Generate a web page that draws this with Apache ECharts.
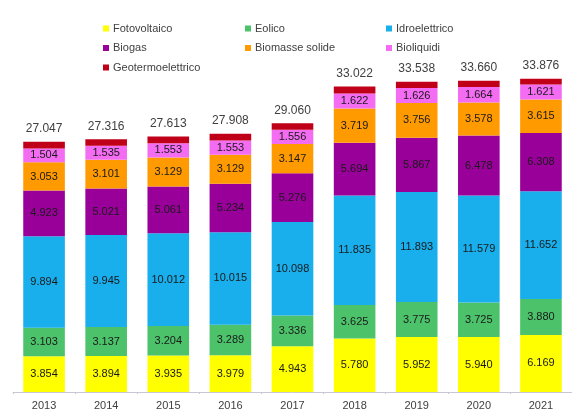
<!DOCTYPE html>
<html><head><meta charset="utf-8">
<script src="https://cdn.jsdelivr.net/npm/echarts@6/dist/echarts.min.js"></script>
<style>html,body{margin:0;padding:0;background:#fff}#c{width:572px;height:411px}</style>
</head><body><div id="c"></div>
<script>
const years = ['2013','2014','2015','2016','2017','2018','2019','2020','2021'];
const fotovoltaico = [3854,3894,3935,3979,4943,5780,5952,5940,6169];
const eolico = [3103,3137,3204,3289,3336,3625,3775,3725,3880];
const idroelettrico = [9894,9945,10012,10015,10098,11835,11893,11579,11652];
const biogas = [4923,5021,5061,5234,5276,5694,5867,6478,6308];
const biomasse = [3053,3101,3129,3129,3147,3719,3756,3578,3615];
const bioliquidi = [1504,1535,1553,1553,1556,1622,1626,1664,1621];
const geotermo = [716,683,719,709,704,747,669,696,631];
const totals = [27047,27316,27613,27908,29060,33022,33538,33660,33876];

const fmt = v => String(v).replace(/\B(?=(\d{3})+(?!\d))/g, '.');
const FONT = 'Liberation Sans, Arial, sans-serif';
function mk(name, data, color, showLabel){
  return {
    name, type:'bar', stack:'tot', data, barCategoryGap:'33%',
    itemStyle:{color},
    label:{show:showLabel, position:'inside', color:'#1a1a1a', fontSize:11, fontFamily:FONT,
      formatter:p=>fmt(p.value)},
    emphasis:{disabled:true}
  };
}
const series = [
  mk('Fotovoltaico', fotovoltaico, '#FFFF00', true),
  mk('Eolico', eolico, '#4CC36B', true),
  mk('Idroelettrico', idroelettrico, '#19AEEC', true),
  mk('Biogas', biogas, '#990099', true),
  mk('Biomasse solide', biomasse, '#FF9A00', true),
  mk('Bioliquidi', bioliquidi, '#F46CF2', true),
  mk('Geotermoelettrico', geotermo, '#C00018', false)
];
series[6].label = {show:true, position:'top', distance:7, color:'#404040', fontSize:12, fontFamily:FONT,
  formatter:p=>fmt(totals[p.dataIndex])};

const legBase = {orient:'vertical', itemWidth:6, itemHeight:6, itemGap:8.5, icon:'rect',
  textStyle:{color:'#404040', fontSize:11, fontFamily:FONT, padding:[0,0,0,-1]}, selectedMode:false};
const chart = echarts.init(document.getElementById('c'), null, {renderer:'canvas'});
chart.setOption({
  animation:false,
  backgroundColor:'#fff',
  grid:{left:13, width:562, top:22, bottom:19, containLabel:false},
  legend:[
    Object.assign({}, legBase, {left:98, top:18, data:['Fotovoltaico','Biogas','Geotermoelettrico']}),
    Object.assign({}, legBase, {left:240, top:18, data:['Eolico','Biomasse solide']}),
    Object.assign({}, legBase, {left:381, top:18, data:['Idroelettrico','Bioliquidi']})
  ],
  xAxis:{type:'category', data:years,
    axisLine:{lineStyle:{color:'#c8c8d4', width:1}},
    axisTick:{show:true, length:2, lineStyle:{color:'#c8c8d4'}},
    axisLabel:{color:'#404040', fontSize:11, fontFamily:FONT, margin:8}},
  yAxis:{type:'value', min:0, max:40000, show:false, splitLine:{show:false}},
  series
});
</script></body></html>
